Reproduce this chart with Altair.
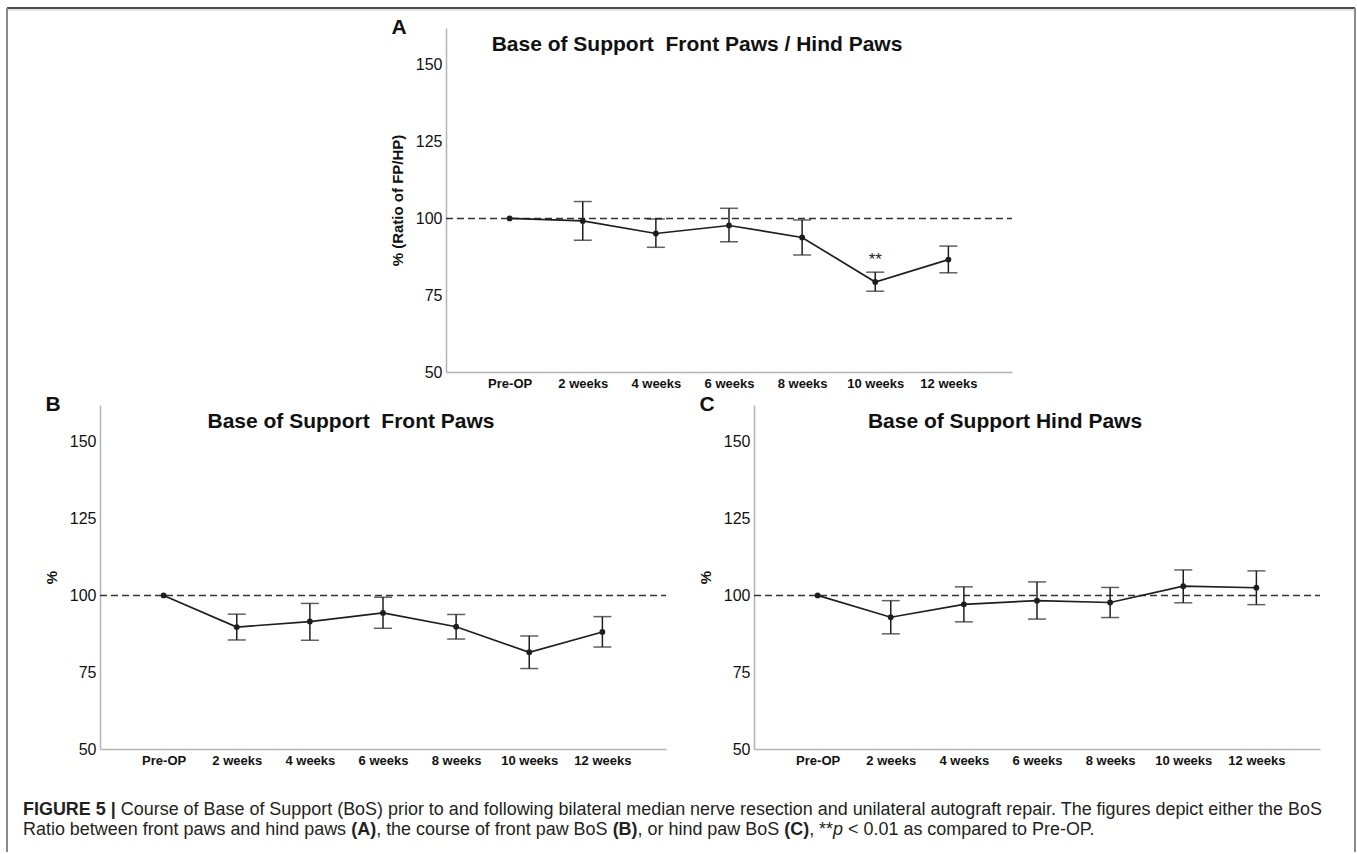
import altair as alt
import pandas as pd

# ---------------- data ----------------
CATS = ["Pre-OP", "2 weeks", "4 weeks", "6 weeks", "8 weeks", "10 weeks", "12 weeks"]

A_MEAN = [100, 99.2, 95.1, 97.7, 93.8, 79.3, 86.6]
A_LO = [100, 92.9, 90.6, 92.4, 88.1, 76.3, 82.3]
A_HI = [100, 105.5, 99.8, 103.3, 99.5, 82.5, 91.0]

B_MEAN = [100, 89.7, 91.5, 94.3, 89.8, 81.5, 88.1]
B_LO = [100, 85.5, 85.4, 89.3, 85.8, 76.2, 83.2]
B_HI = [100, 93.9, 97.4, 99.4, 93.8, 86.8, 93.1]

C_MEAN = [100, 92.9, 97.1, 98.3, 97.7, 103.0, 102.5]
C_LO = [100, 87.5, 91.4, 92.3, 92.8, 97.6, 97.0]
C_HI = [100, 98.3, 102.8, 104.4, 102.6, 108.3, 108.0]

STAR_CAT = ["10 weeks"]
STAR_Y = [86.4]
STAR_TXT = ["**"]

REF_Y = [100]
Y_TICKS = [50, 75, 100, 125, 150]
Y_DOMAIN = [50, 162]

TITLE_A = "Base of Support\u00a0 Front Paws / Hind Paws"
TITLE_B = "Base of Support\u00a0 Front Paws"
TITLE_C = "Base of Support Hind Paws"
YT_A = "% (Ratio of FP/HP)"
YT_BC = "%"

CAP1_BOLD = "FIGURE 5 |"
CAP1_REG = ("Course of Base of Support (BoS) prior to and following bilateral median nerve "
            "resection and unilateral autograft repair. The figures depict either the BoS")
CAP2_PARTS = [
    ("Ratio between front paws and hind paws", "normal", "normal"),
    ("(A)", "bold", "normal"),
    (", the course of front paw BoS", "normal", "normal"),
    ("(B)", "bold", "normal"),
    (", or hind paw BoS", "normal", "normal"),
    ("(C)", "bold", "normal"),
    (", **", "normal", "normal"),
    ("p", "normal", "italic"),
    ("< 0.01 as compared to Pre-OP.", "normal", "normal"),
]
CAP2_SPACE = [False, True, False, True, False, True, False, False, True]

# ---------------- layout ----------------
FONT = "Liberation Sans"
W, H = 566, 344           # each panel's plot area
GAP = 88                  # horizontal gap between panel B and C
A_X0 = 346                # left offset of panel A relative to panel B
C_X0 = W + GAP
ROW_W = 2 * W + GAP
INK = "#1e1e1e"
OX, OY = 100, 28          # absolute position of row 0 origin

# Helvetica/Arial advance widths (per 1000 em) for laying out caption runs
_reg = {" ": 278, "(": 333, ")": 333, "*": 389, ",": 278, "-": 333, ".": 278, "/": 278,
        "<": 584, "|": 260}
for d in "0123456789":
    _reg[d] = 556
for ch, w in zip("ABCDEFGHIJKLMNOPQRSTUVWXYZ",
                 [667, 667, 722, 722, 667, 611, 778, 722, 278, 500, 667, 556, 833, 722, 778,
                  667, 778, 722, 667, 611, 722, 667, 944, 667, 667, 611]):
    _reg[ch] = w
for ch, w in zip("abcdefghijklmnopqrstuvwxyz",
                 [556, 556, 500, 556, 556, 278, 556, 556, 222, 222, 500, 222, 833, 556, 556,
                  556, 556, 333, 500, 278, 556, 500, 722, 500, 500, 500]):
    _reg[ch] = w
_bold = dict(_reg)
for ch, w in zip("ABCDEFGHIJKLMNOPQRSTUVWXYZ",
                 [722, 722, 722, 722, 667, 611, 778, 722, 278, 556, 722, 611, 833, 722, 778,
                  667, 778, 722, 667, 611, 722, 667, 944, 667, 667, 611]):
    _bold[ch] = w
_bold["|"] = 280


def tw(s, size, bold=False):
    t = _bold if bold else _reg
    return sum(t.get(c, 556) for c in s) / 1000.0 * size


CAP_X0 = 23
CAP_LINE1_W = 1301
CAP_SIZE = CAP_LINE1_W / ((sum(_bold.get(c, 556) for c in CAP1_BOLD) + 278 +
                           sum(_reg.get(c, 556) for c in CAP1_REG)) / 1000.0)

one = pd.DataFrame({"k": [0]})


def panel(mean, lo, hi, title, letter, ytitle, x0, stars=False):
    df = pd.DataFrame({"t": CATS, "m": mean, "lo": lo, "hi": hi})
    base = alt.Chart(df)
    xenc = alt.X("t:N", sort=CATS,
                 scale=alt.Scale(type="point", padding=0.87, range=[x0, x0 + W]),
                 axis=alt.Axis(title=None, orient="bottom", labelAngle=0, labelFontSize=13,
                               labelFontWeight="bold", labelPadding=5))

    def yenc(field):
        return alt.Y(field,
                     scale=alt.Scale(domain=Y_DOMAIN, nice=False, zero=False),
                     axis=alt.Axis(title=ytitle, orient="left", offset=-x0, values=Y_TICKS,
                                   labelFontSize=16, labelPadding=4, titleFontSize=15,
                                   titleFontWeight="bold", titleX=-49, titleY=H / 2,
                                   titleAngle=270, titleBaseline="middle",
                                   titleAlign="center"))

    ref = alt.Chart(pd.DataFrame({"ref": REF_Y})).mark_rule(
        color="#333333", strokeWidth=1.5, strokeDash=[7, 4]
    ).encode(x=alt.value(x0), x2=alt.value(x0 + W), y=yenc("ref:Q"))

    err = base.transform_filter("datum.lo != datum.hi")
    bars = err.mark_rule(color=INK, strokeWidth=1.5).encode(
        x=xenc, y=yenc("lo:Q"), y2="hi:Q")
    cap_lo = err.mark_tick(color=INK, size=18, thickness=1.5).encode(x=xenc, y=yenc("lo:Q"))
    cap_hi = err.mark_tick(color=INK, size=18, thickness=1.5).encode(x=xenc, y=yenc("hi:Q"))
    line = base.mark_line(color=INK, strokeWidth=1.7).encode(x=xenc, y=yenc("m:Q"))
    pts = base.mark_circle(color=INK, size=34, opacity=1).encode(x=xenc, y=yenc("m:Q"))

    ttl = alt.Chart(one).mark_text(
        text=title, font=FONT, fontSize=21, fontWeight="bold", color="#111111",
        align="center", baseline="middle"
    ).encode(x=alt.value(x0 + W / 2 - 32), y=alt.value(17))
    let = alt.Chart(one).mark_text(
        text=letter, font=FONT, fontSize=21, fontWeight="bold", color="#111111",
        align="center", baseline="middle"
    ).encode(x=alt.value(x0 - 47), y=alt.value(0))

    layers = [ref, line, bars, cap_lo, cap_hi, pts, ttl, let]
    if stars:
        sdf = pd.DataFrame({"t": STAR_CAT, "s": STAR_Y, "txt": STAR_TXT})
        st = alt.Chart(sdf).mark_text(font=FONT, fontSize=17, color=INK,
                                      baseline="middle", align="center").encode(
            x=xenc, y=yenc("s:Q"), text="txt:N")
        layers.append(st)
    return alt.layer(*layers)


# ---------------- frame + caption (placed relative to row 0 origin) ----------------
def vx(a):
    return alt.value(a - OX)


def vy(a):
    return alt.value(a - OY)


frame = [
    alt.Chart(one).mark_rule(color="#4a4a4a", strokeWidth=2).encode(
        x=vx(7), x2=vx(1355), y=vy(8)),
    alt.Chart(one).mark_rule(color="#d0d0d0", strokeWidth=1).encode(
        x=vx(8), x2=vx(1354), y=vy(10)),
    alt.Chart(one).mark_rule(color="#8a8a8a", strokeWidth=2).encode(
        x=vx(7), y=vy(8), y2=vy(852)),
    alt.Chart(one).mark_rule(color="#8a8a8a", strokeWidth=2).encode(
        x=vx(1355), y=vy(8), y2=vy(852)),
]

caption = []
Y1, Y2 = 810, 830
caption.append(alt.Chart(one).mark_text(
    text=CAP1_BOLD, font=FONT, fontSize=CAP_SIZE, fontWeight="bold", color="#231f20",
    align="left", baseline="middle").encode(x=vx(CAP_X0), y=vy(Y1)))
x1 = CAP_X0 + tw(CAP1_BOLD, CAP_SIZE, True) + tw(" ", CAP_SIZE)
caption.append(alt.Chart(one).mark_text(
    text=CAP1_REG, font=FONT, fontSize=CAP_SIZE, color="#231f20",
    align="left", baseline="middle").encode(x=vx(x1), y=vy(Y1)))
xc = CAP_X0
for (txt, wt, st), sp in zip(CAP2_PARTS, CAP2_SPACE):
    if sp:
        xc += tw(" ", CAP_SIZE)
    caption.append(alt.Chart(one).mark_text(
        text=txt, font=FONT, fontSize=CAP_SIZE, fontWeight=wt, fontStyle=st,
        color="#231f20", align="left", baseline="middle").encode(x=vx(xc), y=vy(Y2)))
    xc += tw(txt, CAP_SIZE, wt == "bold")

# ---------------- rows ----------------
A = panel(A_MEAN, A_LO, A_HI, TITLE_A, "A", YT_A, A_X0, stars=True)
row0 = alt.layer(A, *frame, *caption).properties(width=A_X0 + W, height=H)

B = panel(B_MEAN, B_LO, B_HI, TITLE_B, "B", YT_BC, 0)
C = panel(C_MEAN, C_LO, C_HI, TITLE_C, "C", YT_BC, C_X0)
row1 = alt.layer(B, C).resolve_scale(x="independent", y="independent").properties(
    width=ROW_W, height=H)

chart = alt.vconcat(
    row0, row1, spacing=33, bounds="flush"
).properties(
    padding={"left": 6, "top": 7, "right": 0, "bottom": 0}
).configure_view(
    stroke=None
).configure_axis(
    grid=False, ticks=False, domainColor="#b4b4b4", domainWidth=1.5,
    labelColor="#111111", titleColor="#111111", labelFont=FONT, titleFont=FONT
).configure_text(font=FONT)

chart.save("out.html", embed_options={"renderer": "svg", "actions": False})
